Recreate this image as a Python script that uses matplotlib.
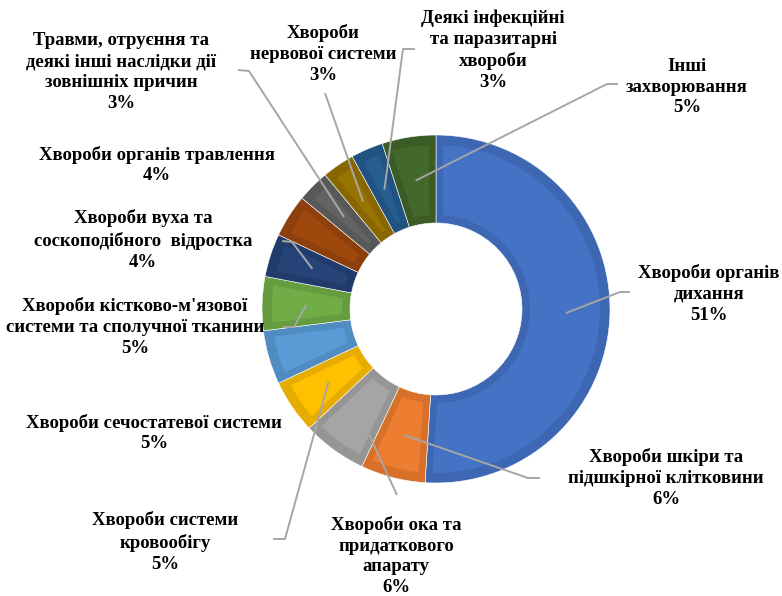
import numpy as np
import matplotlib.pyplot as plt
from matplotlib.patches import Polygon

plt.rcParams['font.family'] = ['Liberation Serif', 'DejaVu Serif']

# data
categories = [
    "Хвороби органів\nдихання",
    "Хвороби шкіри та\nпідшкірної клітковини",
    "Хвороби ока та\nпридаткового\nапарату",
    "Хвороби системи\nкровообігу",
    "Хвороби сечостатевої системи",
    "Хвороби кістково-м'язової\nсистеми та сполучної тканини",
    "Хвороби вуха та\nсоскоподібного  відростка",
    "Хвороби органів травлення",
    "Травми, отруєння та\nдеякі інші наслідки дії\nзовнішніх причин",
    "Хвороби\nнервової системи",
    "Деякі інфекційні\nта паразитарні\nхвороби",
    "Інші\nзахворювання",
]
shares = [51, 6, 6, 5, 5, 5, 4, 4, 3, 3, 3, 5]

# colours: outer (darker) rim and inner (lighter) face
rim_colors = ["#3d67b3", "#d77029", "#959595", "#e6ad00", "#518cc1", "#649c3f",
              "#213c6b", "#8d400c", "#585858", "#886600", "#205382", "#3b5c26"]
face_colors = ["#4472c4", "#ed7d31", "#a5a5a5", "#ffc000", "#5b9bd5", "#70ad47",
               "#264478", "#9e480e", "#636363", "#997300", "#255e91", "#43682b"]

W, H = 782, 596
cx, cy = 436, H - 309
r_out, r_in = 174, 86

# layout: label centres and leader elbows in pixel coords (y from top)
label_pos = [(709, 294), (666, 478), (396, 556), (165, 542), (154, 433), (135, 327),
             (143, 240), (157, 165), (121, 72), (323, 54), (493, 50), (687, 87)]
elbows = [[(620, 292), (630, 292)], [(528, 478), (540, 478)], [(397, 495)],
          [(285, 539), (273, 539)], None, [(294, 327), (283, 327)],
          [(292, 242), (282, 241)], None, [(249, 71), (238, 70)],
          [(325, 93)], [(403, 49), (415, 49)], [(607, 84), (618, 84)]]

fig = plt.figure(figsize=(W / 100, H / 100), dpi=100)
ax = fig.add_axes([0, 0, 1, 1])

wedges, _ = ax.pie(shares, radius=r_out, center=(cx, cy), startangle=90,
                   counterclock=False, colors=rim_colors,
                   wedgeprops=dict(width=r_out - r_in, edgecolor="white", linewidth=0.4))

# bevel-like lighter inner face of every slice
d_out, d_in, d_side = 10, 8, 7
for w, fc in zip(wedges, face_colors):
    t1, t2 = w.theta1, w.theta2
    ro, ri = r_out - d_out, r_in + d_in
    ao = np.degrees(np.arcsin(d_side / ro))
    ai = np.degrees(np.arcsin(d_side / ri))
    outer = np.radians(np.linspace(t1 + ao, t2 - ao, 60))
    inner = np.radians(np.linspace(t2 - ai, t1 + ai, 60))
    pts = np.concatenate([
        np.column_stack([cx + ro * np.cos(outer), cy + ro * np.sin(outer)]),
        np.column_stack([cx + ri * np.cos(inner), cy + ri * np.sin(inner)]),
    ])
    ax.add_patch(Polygon(pts, closed=True, facecolor=fc, edgecolor="none"))

# labels and leader lines
r_mid = (r_out + r_in) / 2
for w, name, val, (lx, ly), elb in zip(wedges, categories, shares, label_pos, elbows):
    ax.text(lx, H - ly, f"{name}\n{val}%", ha="center", va="center",
            fontsize=13.5, fontweight="bold", linespacing=1.3, color="black")
    if elb is None:
        continue
    mid = np.radians((w.theta1 + w.theta2) / 2)
    xs = [cx + r_mid * np.cos(mid)] + [p[0] for p in elb]
    ys = [cy + r_mid * np.sin(mid)] + [H - p[1] for p in elb]
    ax.plot(xs, ys, color="#a6a6a6", linewidth=1.4, solid_capstyle="butt")

ax.set_xlim(0, W)
ax.set_ylim(0, H)
ax.set_aspect("equal")
ax.axis("off")

fig.savefig("out.png", dpi=100, facecolor="white")
